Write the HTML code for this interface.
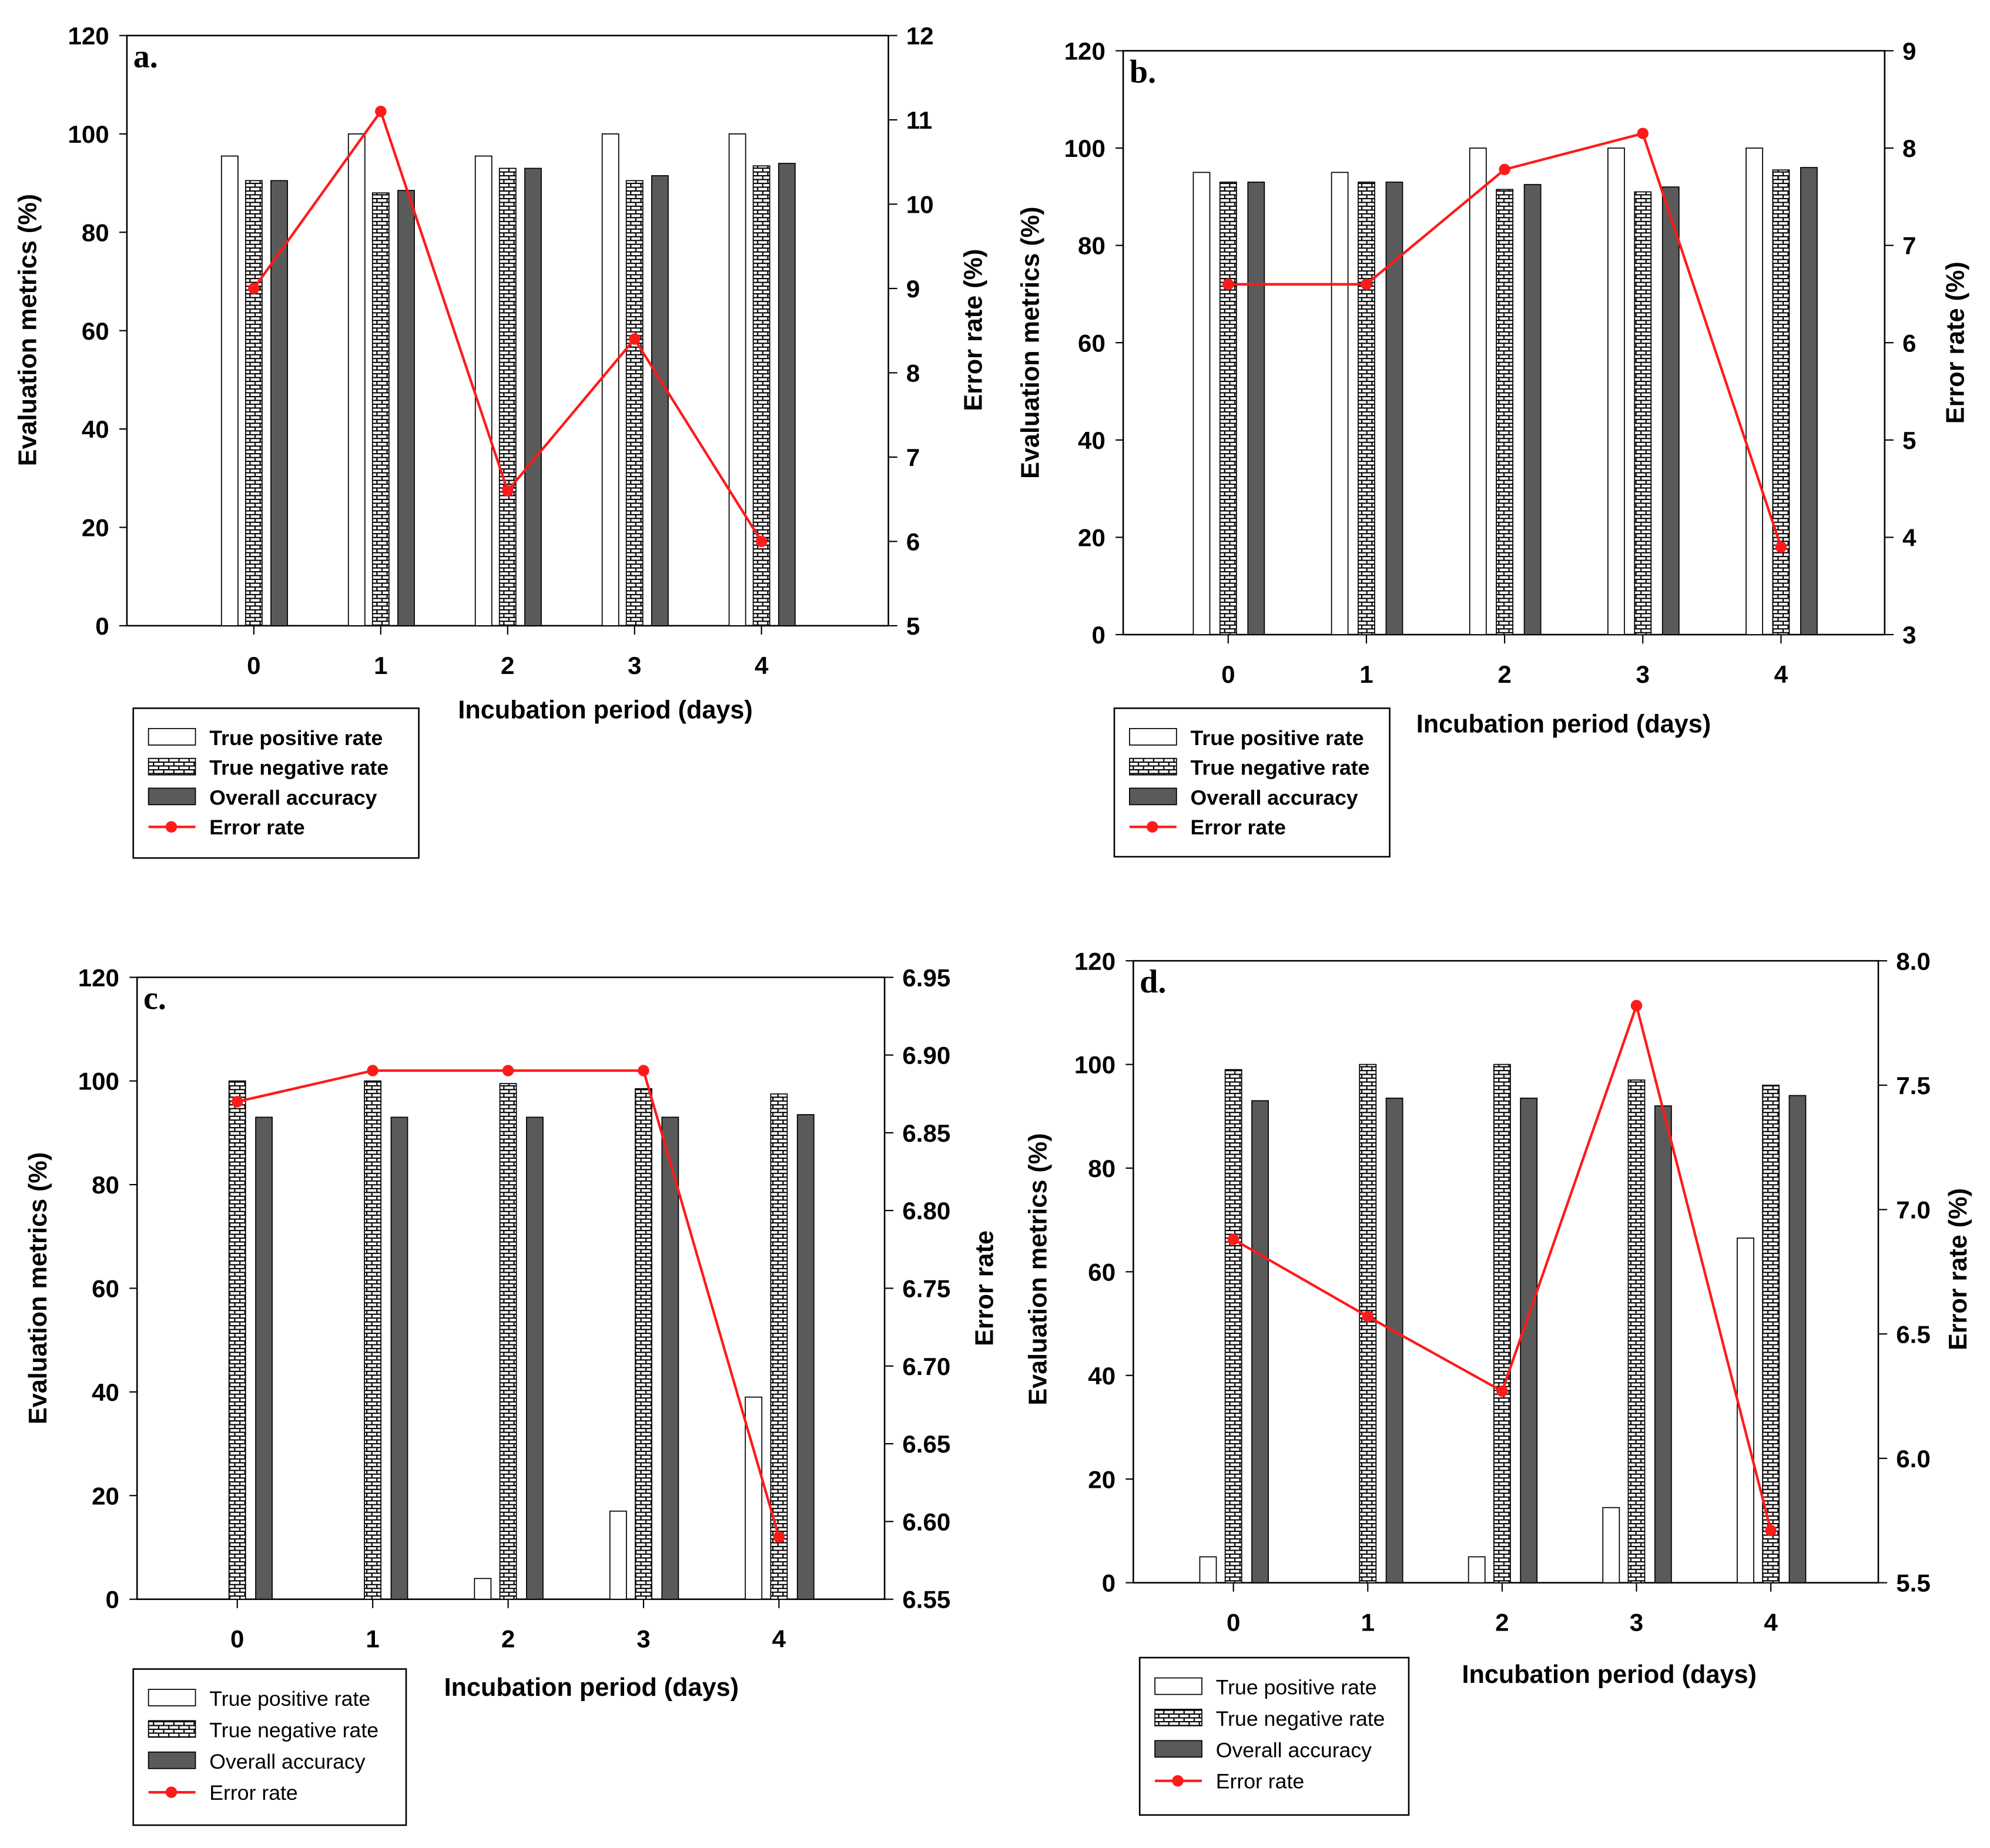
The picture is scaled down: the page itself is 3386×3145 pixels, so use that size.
<!DOCTYPE html>
<html><head><meta charset="utf-8"><style>
html,body{margin:0;padding:0;background:#fff}
svg{display:block}
text{font-family:"Liberation Sans",Arial,sans-serif;fill:#000}
</style></head><body>
<svg id="root" width="3386" height="3145" viewBox="0 0 1568 1456" preserveAspectRatio="none" xmlns="http://www.w3.org/2000/svg">
<defs>
<pattern id="brick" patternUnits="userSpaceOnUse" width="8" height="6">
<rect width="8" height="6" fill="#fff"/>
<path d="M0 0.5H8M0 3.5H8M1 0.5V3.5M5 3.5V6" stroke="#000" stroke-width="1" fill="none"/>
</pattern>
</defs>
</svg>
<script>
const categories=[0,1,2,3,4];
const tprA=[95.5,100,95.5,100,100], tnrA=[90.5,88,93,90.5,93.5], oaA=[90.5,88.5,93,91.5,94], errA=[9,11.1,6.6,8.4,6];
const tprB=[95,95,100,100,100], tnrB=[93,93,91.5,91,95.5], oaB=[93,93,92.5,92,96], errB=[6.6,6.6,7.78,8.15,3.9];
const tprC=[0,0,4,17,39], tnrC=[100,100,99.5,98.5,97.5], oaC=[93,93,93,93,93.5], errC=[6.87,6.89,6.89,6.89,6.59];
const tprD=[5,0,5,14.5,66.5], tnrD=[99,100,100,97,96], oaD=[93,93.5,93.5,92,94], errD=[6.88,6.57,6.27,7.82,5.71];
const leftTicks=[0,20,40,60,80,100,120];
const rightTicksA=["5","6","7","8","9","10","11","12"];
const rightTicksB=["3","4","5","6","7","8","9"];
const rightTicksC=["6.55","6.60","6.65","6.70","6.75","6.80","6.85","6.90","6.95"];
const rightTicksD=["5.5","6.0","6.5","7.0","7.5","8.0"];

const NS="http://www.w3.org/2000/svg";
const root=document.getElementById('root');
function el(tag,attrs,parent,txt){const e=document.createElementNS(NS,tag);for(const k in attrs)e.setAttribute(k,attrs[k]);if(txt!==undefined)e.textContent=txt;(parent||root).appendChild(e);return e;}

const panels=[
 {id:'a',L:100,R:700,T:28,B:493,xmin:-1,xmax:5,rt:rightTicksA,tpr:tprA,tnr:tnrA,oa:oaA,err:errA,lab:'a.',rtitle:'Error rate (%)',rtx:767,ltx:22,ltitleY:260,xtx:477,xty:566,leg:[105,558,225,118],legBold:true,bw:13,off:[-19,0,20],ls:23.5},
 {id:'b',L:885,R:1485,T:40,B:500,xmin:-0.76,xmax:4.75,rt:rightTicksB,tpr:tprB,tnr:tnrB,oa:oaB,err:errB,lab:'b.',rtitle:'Error rate (%)',rtx:1541,ltx:812,ltitleY:270,xtx:1232,xty:577,leg:[878,558,217,117],legBold:true,bw:13,off:[-21,0,22],ls:23.5},
 {id:'c',L:108,R:697,T:770,B:1260,xmin:-0.74,xmax:4.78,rt:rightTicksC,tpr:tprC,tnr:tnrC,oa:oaC,err:errC,lab:'c.',rtitle:'Error rate',rtx:776,ltx:30,ltitleY:1015,xtx:466,xty:1336,leg:[105,1315,215,123],legBold:false,bw:13,off:[-20,0,21],ls:24.7},
 {id:'d',L:893,R:1480,T:757,B:1247,xmin:-0.745,xmax:4.8,rt:rightTicksD,tpr:tprD,tnr:tnrD,oa:oaD,err:errD,lab:'d.',rtitle:'Error rate (%)',rtx:1543,ltx:818,ltitleY:1000,xtx:1268,xty:1326,leg:[898,1306,212,124],legBold:false,bw:13,off:[-20,0,21],ls:24.7}
];

panels.forEach(p=>{
 const g=el('g',{});
 
 
 const xs=c=>p.L+(c-p.xmin)/(p.xmax-p.xmin)*(p.R-p.L);
 const ys=v=>p.B-v/120*(p.B-p.T);
 const r0=parseFloat(p.rt[0]), r1=parseFloat(p.rt[p.rt.length-1]);
 const yr=v=>p.B-(v-r0)/(r1-r0)*(p.B-p.T);
 const fr=el('rect',{x:p.L,y:p.T,width:p.R-p.L,height:p.B-p.T,fill:'none',stroke:'#000','stroke-width':1.2},g);
 
 
 const series=[[p.tpr,'#fff','tpr'],[p.tnr,'url(#brick)','tnr'],[p.oa,'#5a5a5a','accuracy']];
 series.forEach((s,si)=>{
  s[0].forEach((v,i)=>{
   const x=xs(categories[i])+p.off[si]-p.bw/2;
   const b=el('rect',{x:x,y:ys(v),width:p.bw,height:Math.max(0,p.B-ys(v)),fill:s[1],stroke:'#000','stroke-width':0.8},g);
   
   
  });
 });
 leftTicks.forEach(t=>{
  const y=ys(t);
  el('line',{x1:p.L-6,y1:y,x2:p.L,y2:y,stroke:'#000','stroke-width':1},g);
  const tx=el('text',{x:p.L-14,y:y+7,'text-anchor':'end','font-size':19.5,'font-weight':'bold'},g,String(t));
  
  
 });
 p.rt.forEach(t=>{
  const y=yr(parseFloat(t));
  el('line',{x1:p.R,y1:y,x2:p.R+7,y2:y,stroke:'#000','stroke-width':1},g);
  const tx=el('text',{x:p.R+14,y:y+7,'font-size':19.5,'font-weight':'bold'},g,t);
  
  
 });
 categories.forEach(c=>{
  const x=xs(c);
  el('line',{x1:x,y1:p.B,x2:x,y2:p.B+7,stroke:'#000','stroke-width':1},g);
  const tx=el('text',{x:x,y:p.B+38,'text-anchor':'middle','font-size':19.5,'font-weight':'bold'},g,String(c));
  
  
 });
 const pts=p.err.map((v,i)=>xs(categories[i])+','+yr(v)).join(' ');
 const pl=el('polyline',{points:pts,fill:'none',stroke:'#ff1a1a','stroke-width':2},g);
 
 
 p.err.forEach((v,i)=>{
  const c=el('circle',{cx:xs(categories[i]),cy:yr(v),r:4.5,fill:'#ff1a1a'},g);
  
  
 });
 const pl2=el('text',{x:p.L+5,y:p.T+25,'font-size':26,'font-weight':'bold',style:'font-family:"Liberation Serif",serif'},g,p.lab);
 
 
 const lt=el('text',{x:p.ltx,y:p.ltitleY,'text-anchor':'middle','font-size':20,'font-weight':'bold',transform:'rotate(-90 '+p.ltx+' '+p.ltitleY+')','dominant-baseline':'central'},g,'Evaluation metrics (%)');
 
 
 const rtt=el('text',{x:p.rtx,y:p.ltitleY,'text-anchor':'middle','font-size':20,'font-weight':'bold',transform:'rotate(-90 '+p.rtx+' '+p.ltitleY+')','dominant-baseline':'central'},g,p.rtitle);
 
 
 const xt=el('text',{x:p.xtx,y:p.xty,'text-anchor':'middle','font-size':20,'font-weight':'bold'},g,'Incubation period (days)');
 
 
 const [lx,ly,lw,lh]=p.leg;
 const lg=el('g',{},g);
 
 
 el('rect',{x:lx,y:ly,width:lw,height:lh,fill:'#fff',stroke:'#000','stroke-width':1.2},lg);
 const names=['True positive rate','True negative rate','Overall accuracy','Error rate'];
 const fills=['#fff','url(#brick)','#5a5a5a'];
 names.forEach((n,i)=>{
  const cy=ly+23+i*p.ls;
  if(i<3){el('rect',{x:lx+12,y:cy-7,width:37,height:13,fill:fills[i],stroke:'#000','stroke-width':0.8},lg);}
  else{el('line',{x1:lx+12,y1:cy,x2:lx+49,y2:cy,stroke:'#ff1a1a','stroke-width':2},lg);el('circle',{cx:lx+30,cy:cy,r:4.5,fill:'#ff1a1a'},lg);}
  const t=el('text',{x:lx+60,y:cy+6,'font-size':16.5,'font-weight':p.legBold?'bold':'normal'},lg,n);
  
  
 });
});
</script>
</body></html>
